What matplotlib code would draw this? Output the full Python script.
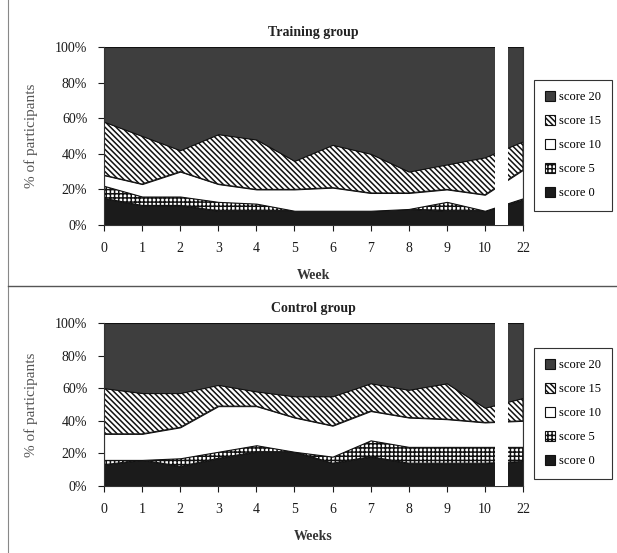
import matplotlib.pyplot as plt
from matplotlib.lines import Line2D
from matplotlib.patches import Patch

# percent of participants per score, weeks 0..10 and 22
WEEKS = ["0", "1", "2", "3", "4", "5", "6", "7", "8", "9", "10", "22"]
SCORES = ["score 0", "score 5", "score 10", "score 15", "score 20"]

train_s0 = [15, 11, 11, 8, 8, 8, 8, 8, 9, 8, 8, 14]
train_s5 = [7, 5, 5, 5, 4, 0, 0, 0, 0, 5, 0, 1]
train_s10 = [6, 7, 14, 10, 8, 12, 13, 10, 9, 7, 9, 16]
train_s15 = [30, 27, 12, 28, 28, 16, 24, 22, 12, 14, 21, 16]
train_s20 = [42, 50, 58, 49, 52, 64, 55, 60, 70, 66, 62, 53]

ctrl_s0 = [13, 16, 12, 17, 21, 21, 14, 18, 14, 14, 14, 15]
ctrl_s5 = [3, 0, 5, 4, 4, 0, 4, 10, 10, 10, 10, 9]
ctrl_s10 = [16, 16, 19, 28, 24, 21, 19, 18, 18, 17, 15, 16]
ctrl_s15 = [28, 25, 21, 13, 9, 13, 18, 17, 17, 22, 9, 14]
ctrl_s20 = [40, 43, 43, 38, 42, 45, 45, 37, 41, 37, 52, 46]

FACES = ["#1b1b1b", "white", "white", "white", "#3e3e3e"]
HATCHES = [None, "++++", None, "\\\\\\\\\\\\", None]

plt.rcParams["font.family"] = ["Liberation Serif", "DejaVu Serif"]
plt.rcParams["hatch.linewidth"] = 1.1

W, H = 617, 553
fig = plt.figure(figsize=(W / 100, H / 100), dpi=100)


def px_axes(x0, y0, x1, y1):
    return fig.add_axes([x0 / W, 1 - y1 / H, (x1 - x0) / W, (y1 - y0) / H])


def panel(ax, layers, title, xlabel):
    x = list(range(len(WEEKS)))
    polys = ax.stackplot(x, layers, colors=FACES, edgecolor="#111111",
                         linewidth=0.8, zorder=1)
    for p, h in zip(polys, HATCHES):
        if h:
            p.set_hatch(h)
    ax.axvspan(10.27, 10.6, color="white", zorder=3, lw=0)
    ax.set_xlim(0, 11)
    ax.set_ylim(0, 100)
    ax.set_xticks(x)
    ax.set_xticklabels(WEEKS)
    ax.set_yticks(range(0, 101, 20))
    ax.set_yticklabels([f"{v}%" for v in range(0, 101, 20)])
    ax.tick_params(axis="both", labelsize=10, colors="#1a1a1a",
                   direction="out", length=4, pad=8)
    ax.spines["top"].set_visible(False)
    for s in ("left", "bottom", "right"):
        ax.spines[s].set_color("#333333")
    ax.set_title(title, fontsize=10, fontweight="bold", pad=8, color="#222222")
    ax.set_xlabel(xlabel, fontsize=10, fontweight="bold", color="#333333",
                  labelpad=10)
    ax.set_ylabel("% of participants", fontsize=11, color="#555555",
                  labelpad=12)


ax1 = px_axes(104, 47, 523, 225)
panel(ax1, [train_s0, train_s5, train_s10, train_s15, train_s20],
      "Training group", "Week")
ax2 = px_axes(104, 323, 523, 486)
panel(ax2, [ctrl_s0, ctrl_s5, ctrl_s10, ctrl_s15, ctrl_s20],
      "Control group", "Weeks")

handles = [Patch(facecolor=f, edgecolor="#111111", hatch=h, lw=0.8)
           for f, h in zip(FACES, HATCHES)]
for top in (80, 348):
    leg = fig.legend(handles[::-1], SCORES[::-1], loc="upper left",
                     bbox_to_anchor=(534 / W, 1 - top / H), borderaxespad=0,
                     fontsize=9, fancybox=False, framealpha=1,
                     edgecolor="#333333", handlelength=0.8, handleheight=0.8,
                     handletextpad=0.3, labelspacing=0.95, borderpad=0.9)
    leg.get_frame().set_linewidth(0.8)

# scan frame lines
fig.add_artist(Line2D([8 / W, 8 / W], [0, 1], color="#888888", lw=0.8))
fig.add_artist(Line2D([8 / W, 1], [1 - 286 / H, 1 - 286 / H],
                      color="#555555", lw=1.0))

fig.savefig("out.png", dpi=100)
